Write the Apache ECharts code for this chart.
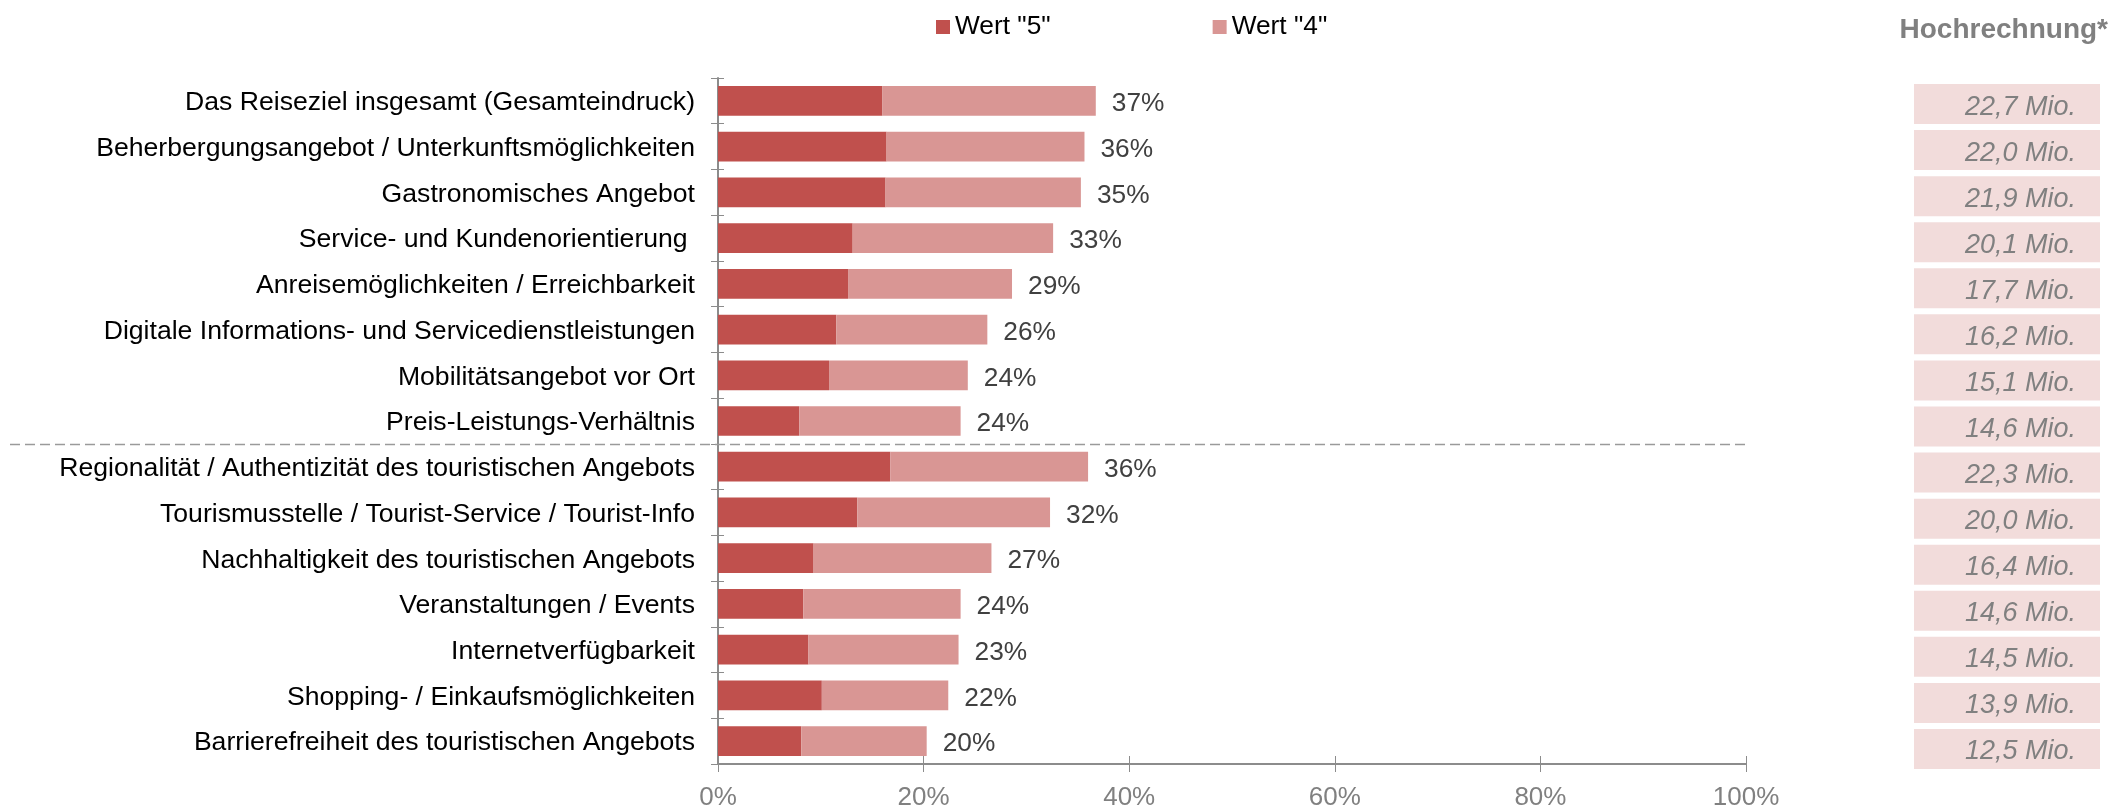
<!DOCTYPE html>
<html>
<head>
<meta charset="utf-8">
<script src="https://cdn.jsdelivr.net/npm/echarts@6/dist/echarts.min.js"></script>
<style>
  html, body { margin: 0; padding: 0; background: #ffffff; }
  #chart { width: 2113px; height: 811px; }
</style>
</head>
<body>
<div id="chart"></div>
<script>
// Survey items, top to bottom
const categories = [
  'Das Reiseziel insgesamt (Gesamteindruck)',
  'Beherbergungsangebot / Unterkunftsmöglichkeiten',
  'Gastronomisches Angebot',
  'Service- und Kundenorientierung ',
  'Anreisemöglichkeiten / Erreichbarkeit',
  'Digitale Informations- und Servicedienstleistungen',
  'Mobilitätsangebot vor Ort',
  'Preis-Leistungs-Verhältnis',
  'Regionalität / Authentizität des touristischen Angebots',
  'Tourismusstelle / Tourist-Service / Tourist-Info',
  'Nachhaltigkeit des touristischen Angebots',
  'Veranstaltungen / Events',
  'Internetverfügbarkeit',
  'Shopping- / Einkaufsmöglichkeiten',
  'Barrierefreiheit des touristischen Angebots'
];

// Share of ratings (percent)
const wert5 = [16.0, 16.4, 16.3, 13.1, 12.65, 11.5, 10.8, 7.9, 16.75, 13.55, 9.3, 8.3, 8.8, 10.1, 8.1];
const wert4 = [20.75, 19.25, 19.0, 19.5, 15.95, 14.7, 13.5, 15.7, 19.25, 18.75, 17.3, 15.3, 14.6, 12.3, 12.2];

// Projection in millions of people
const hochrechnung = [22.7, 22.0, 21.9, 20.1, 17.7, 16.2, 15.1, 14.6, 22.3, 20.0, 16.4, 14.6, 14.5, 13.9, 12.5];

// Percent axis
const xMin = 0;
const xMax = 100;
const xStep = 20;

// Index of the last item of the first block (separator drawn below it)
const groupSplitAfter = 7;

const seriesNames = ['Wert "5"', 'Wert "4"'];

const FONT = '"Liberation Sans", Arial, Helvetica, sans-serif';
const AXIS_GREY = '#8c8c8c';

const totals = wert5.map((v, i) => v + wert4[i]);

const chart = echarts.init(document.getElementById('chart'), null, { renderer: 'canvas' });

const gridMain = { left: 718, top: 78, width: 1028, height: 692 };
const gridSide = { left: 1914, top: 81, width: 186, height: 691 };

const option = {
  backgroundColor: '#ffffff',
  animation: false,
  textStyle: { fontFamily: FONT },
  title: {
    text: 'Hochrechnung*',
    right: 5,
    top: 16,
    padding: 0,
    textStyle: { fontFamily: FONT, fontSize: 28, fontWeight: 'bold', color: '#808080' }
  },
  legend: {
    data: seriesNames,
    left: 936,
    top: 13,
    padding: 0,
    itemWidth: 14,
    itemHeight: 14,
    itemGap: 162,
    icon: 'rect',
    textStyle: { fontFamily: FONT, fontSize: 26.3, color: '#000000', lineHeight: 28 }
  },
  grid: [
    Object.assign({ containLabel: false }, gridMain),
    Object.assign({ containLabel: false }, gridSide)
  ],
  xAxis: [
    {
      type: 'value', gridIndex: 0, min: xMin, max: xMax, interval: xStep,
      axisLine: { show: true, lineStyle: { color: AXIS_GREY, width: 2 } },
      axisTick: { show: true, inside: false, length: 8, lineStyle: { color: AXIS_GREY, width: 1 } },
      axisLabel: { formatter: '{value}%', fontFamily: FONT, fontSize: 26, color: '#808080', margin: 21 },
      splitLine: { show: false }
    },
    {
      // inner half of the cross ticks
      type: 'value', gridIndex: 0, position: 'bottom', min: xMin, max: xMax, interval: xStep,
      axisLine: { show: false },
      axisTick: { show: true, inside: true, length: 8, lineStyle: { color: AXIS_GREY, width: 1 } },
      axisLabel: { show: false },
      splitLine: { show: false }
    },
    {
      type: 'value', gridIndex: 1, min: 0, max: 25, show: false
    }
  ],
  yAxis: [
    {
      type: 'category', gridIndex: 0, data: categories, inverse: true,
      axisLine: { show: true, lineStyle: { color: AXIS_GREY, width: 2 } },
      axisTick: { show: true, inside: false, length: 7, lineStyle: { color: AXIS_GREY, width: 1 } },
      axisLabel: {
        interval: 0,
        fontFamily: FONT, fontSize: 26.6, color: '#000000', margin: 23,
        verticalAlign: 'top', lineHeight: 4
      },
      splitLine: { show: false }
    },
    {
      // inner half of the cross ticks
      type: 'category', gridIndex: 0, data: categories, inverse: true, position: 'left',
      axisLine: { show: false },
      axisTick: { show: true, inside: true, length: 6, lineStyle: { color: AXIS_GREY, width: 1 } },
      axisLabel: { show: false },
      splitLine: { show: false }
    },
    {
      type: 'category', gridIndex: 1, data: categories, inverse: true, show: false
    }
  ],
  series: [
    {
      name: seriesNames[0],
      type: 'bar',
      stack: 'rating',
      xAxisIndex: 0, yAxisIndex: 0,
      barWidth: '65%',
      itemStyle: { color: '#C0504D' },
      data: wert5
    },
    {
      name: seriesNames[1],
      type: 'bar',
      stack: 'rating',
      xAxisIndex: 0, yAxisIndex: 0,
      barWidth: '65%',
      itemStyle: { color: '#D99694' },
      label: {
        show: true,
        position: 'right',
        distance: 16,
        offset: [0, 3],
        fontFamily: FONT,
        fontSize: 26.3,
        color: '#404040',
        formatter: (p) => Math.round(totals[p.dataIndex]) + '%'
      },
      data: wert4
    },
    {
      name: 'Hochrechnung',
      type: 'custom',
      xAxisIndex: 2, yAxisIndex: 2,
      encode: { x: 0, y: 1 },
      data: hochrechnung.map((v, i) => [v, i]),
      renderItem: (params, api) => {
        const cs = params.coordSys;
        const center = api.coord([0, api.value(1)]);
        const band = api.size([0, 1])[1];
        const h = band * 0.868;
        const txt = api.value(0).toFixed(1).replace('.', ',') + ' Mio.';
        return {
          type: 'group',
          children: [
            {
              type: 'rect',
              shape: { x: cs.x, y: center[1] - h / 2, width: cs.width, height: h },
              style: { fill: '#F2DCDB' }
            },
            {
              type: 'text',
              style: {
                x: cs.x + cs.width - 24,
                y: center[1] + 3,
                text: txt,
                align: 'right',
                verticalAlign: 'middle',
                fill: '#808080',
                font: 'italic 27px ' + FONT
              }
            }
          ]
        };
      }
    }
  ]
};

chart.setOption(option);

// Dashed separator between the two item groups, spanning labels and plot
const yA = chart.convertToPixel({ yAxisIndex: 0 }, categories[groupSplitAfter]);
const yB = chart.convertToPixel({ yAxisIndex: 0 }, categories[groupSplitAfter + 1]);
const ySep = Math.round((yA + yB) / 2) + 0.5;
const xEnd = chart.convertToPixel({ xAxisIndex: 0 }, xMax);
chart.setOption({
  graphic: [{
    type: 'line',
    silent: true,
    z: 10,
    shape: { x1: 10, y1: ySep, x2: xEnd + 2, y2: ySep },
    style: { stroke: '#9a9a9a', lineWidth: 1.5, lineDash: [10, 5] }
  }]
});
</script>
</body>
</html>
